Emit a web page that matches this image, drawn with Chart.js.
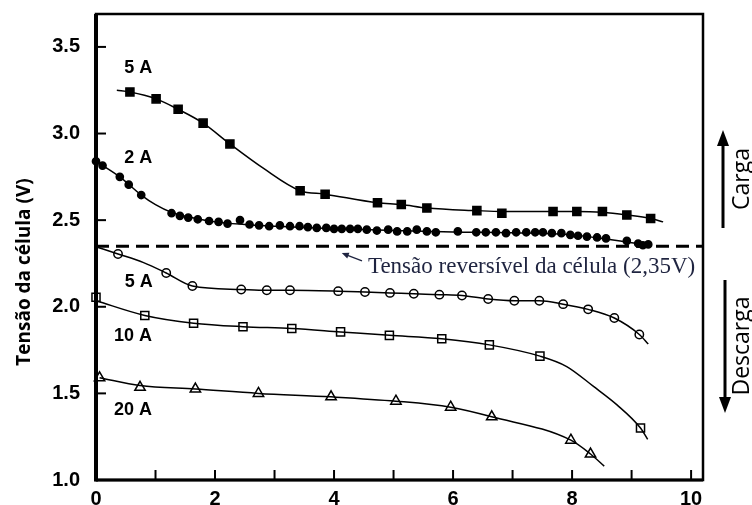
<!DOCTYPE html>
<html>
<head>
<meta charset="utf-8">
<script src="https://cdn.jsdelivr.net/npm/chart.js@4"></script>
<style>
  html, body { margin: 0; padding: 0; background: #fff; }
  #wrap { width: 752px; height: 505px; }
</style>
</head>
<body>
<div id="wrap"><canvas id="chart" width="752" height="505"></canvas></div>
<script>
// axis ranges and ticks
const xMin = 0, xMax = 10.2;
const yMin = 1.0, yMax = 3.69;
const xTickVals = [0, 1, 2, 3, 4, 5, 6, 7, 8, 9, 10];
const xLabels = [0, 2, 4, 6, 8, 10];
const yLabels = [1.0, 1.5, 2.0, 2.5, 3.0, 3.5];
const reversibleV = 2.35;

// charge 5 A (filled squares)
const c5X = [0.57, 1.01, 1.38, 1.80, 2.25, 3.43, 3.85, 4.73, 5.13, 5.56, 6.40, 6.82, 7.68, 8.08, 8.51, 8.92, 9.32];
const c5Y = [3.24, 3.20, 3.14, 3.06, 2.94, 2.67, 2.65, 2.60, 2.59, 2.57, 2.555, 2.54, 2.55, 2.55, 2.55, 2.53, 2.51];
const c5LineX = [0.35, 0.57, 1.01, 1.38, 1.80, 2.25, 2.81, 3.43, 3.85, 4.73, 5.13, 5.56, 6.40, 6.82, 7.68, 8.08, 8.51, 8.92, 9.32, 9.53];
const c5LineY = [3.25, 3.24, 3.20, 3.14, 3.06, 2.94, 2.80, 2.67, 2.65, 2.60, 2.59, 2.57, 2.555, 2.55, 2.55, 2.55, 2.545, 2.53, 2.51, 2.49];

// charge 2 A (filled circles)
const c2X = [0, 0.11, 0.40, 0.55, 0.76, 1.27, 1.41, 1.55, 1.71, 1.90, 2.06, 2.21, 2.42, 2.58, 2.74, 2.91, 3.09, 3.26, 3.42,
  3.56, 3.71, 3.87, 4.00, 4.13, 4.27, 4.40, 4.55, 4.72, 4.91, 5.06, 5.23, 5.39, 5.56, 5.71, 6.08, 6.39, 6.55, 6.72, 6.89,
  7.06, 7.23, 7.38, 7.51, 7.66, 7.82, 7.97, 8.10, 8.25, 8.42, 8.57, 8.92, 9.11, 9.19, 9.28];
const c2Y = [2.84, 2.815, 2.75, 2.705, 2.645, 2.54, 2.525, 2.515, 2.505, 2.495, 2.49, 2.48, 2.50, 2.475, 2.47, 2.465, 2.47, 2.465, 2.465,
  2.46, 2.455, 2.455, 2.45, 2.45, 2.45, 2.45, 2.445, 2.44, 2.445, 2.435, 2.435, 2.445, 2.435, 2.43, 2.435, 2.43, 2.43, 2.43, 2.425,
  2.43, 2.43, 2.43, 2.43, 2.425, 2.425, 2.415, 2.41, 2.405, 2.40, 2.395, 2.38, 2.365, 2.355, 2.36];
const c2LineX = [0, 0.40, 0.76, 1.00, 1.27, 1.60, 2.00, 2.50, 3.00, 4.00, 5.00, 6.00, 7.00, 8.00, 8.60, 9.00, 9.30];
const c2LineY = [2.84, 2.75, 2.645, 2.59, 2.545, 2.515, 2.49, 2.475, 2.465, 2.452, 2.44, 2.432, 2.427, 2.415, 2.39, 2.37, 2.352];

// discharge 5 A (open circles)
const d5X = [0.37, 1.18, 1.62, 2.44, 2.87, 3.26, 4.07, 4.52, 4.94, 5.34, 5.77, 6.15, 6.59, 7.03, 7.45, 7.85, 8.27, 8.71, 9.13];
const d5Y = [2.305, 2.195, 2.12, 2.10, 2.095, 2.095, 2.09, 2.085, 2.08, 2.075, 2.07, 2.065, 2.045, 2.035, 2.035, 2.015, 1.985, 1.935, 1.84];
const d5LineX = [0.01, 0.37, 0.80, 1.18, 1.62, 2.44, 2.87, 3.26, 4.07, 4.52, 4.94, 5.34, 5.77, 6.15, 6.59, 7.03, 7.45, 7.85, 8.27, 8.71, 9.13, 9.28];
const d5LineY = [2.345, 2.305, 2.255, 2.195, 2.12, 2.10, 2.095, 2.095, 2.09, 2.085, 2.08, 2.075, 2.07, 2.065, 2.045, 2.035, 2.035, 2.015, 1.985, 1.935, 1.84, 1.785];

// discharge 10 A (open squares)
const d10X = [0, 0.82, 1.64, 2.47, 3.29, 4.11, 4.93, 5.81, 6.61, 7.46, 9.15];
const d10Y = [2.055, 1.95, 1.905, 1.885, 1.875, 1.855, 1.835, 1.815, 1.78, 1.715, 1.30];
const d10LineX = [0, 0.82, 1.64, 2.47, 3.29, 4.11, 4.93, 5.81, 6.61, 7.46, 7.91, 8.36, 8.75, 9.15, 9.27];
const d10LineY = [2.035, 1.95, 1.905, 1.885, 1.875, 1.855, 1.835, 1.815, 1.78, 1.715, 1.655, 1.54, 1.435, 1.30, 1.235];

// discharge 20 A (open triangles)
const d20X = [0.06, 0.74, 1.67, 2.73, 3.95, 5.04, 5.96, 6.65, 7.98, 8.31];
const d20Y = [1.59, 1.535, 1.525, 1.50, 1.48, 1.455, 1.42, 1.365, 1.23, 1.15];
const d20LineX = [0.06, 0.74, 1.67, 2.73, 3.95, 5.04, 5.96, 6.65, 7.98, 8.31, 8.54];
const d20LineY = [1.59, 1.545, 1.525, 1.50, 1.48, 1.455, 1.42, 1.365, 1.23, 1.15, 1.08];

// curve labels [text, x, y]
const curveLabels = [
  ['5 A', 0.71, 3.38],
  ['2 A', 0.71, 2.86],
  ['5 A', 0.72, 2.145],
  ['10 A', 0.62, 1.83],
  ['20 A', 0.62, 1.405]
];

const pts = (xs, ys) => xs.map((x, i) => ({ x, y: ys[i] }));

function curve(xs, ys) {
  return {
    data: pts(xs, ys), showLine: true, pointRadius: 0, borderColor: '#000',
    borderWidth: 1.5, cubicInterpolationMode: 'monotone', clip: false
  };
}

function markers(xs, ys, style, radius, filled) {
  return {
    data: pts(xs, ys), showLine: false, pointStyle: style, pointRadius: radius,
    pointBorderWidth: 1.5, pointBorderColor: '#000',
    pointBackgroundColor: filled ? '#000' : '#fff', clip: false
  };
}

function arrow(ctx, x1, y1, x2, y2, head, width) {
  const ang = Math.atan2(y2 - y1, x2 - x1);
  ctx.beginPath();
  ctx.moveTo(x1, y1);
  ctx.lineTo(x2 - Math.cos(ang) * head * 0.8, y2 - Math.sin(ang) * head * 0.8);
  ctx.stroke();
  ctx.beginPath();
  ctx.moveTo(x2, y2);
  ctx.lineTo(x2 - head * Math.cos(ang) + width * Math.sin(ang), y2 - head * Math.sin(ang) - width * Math.cos(ang));
  ctx.lineTo(x2 - head * Math.cos(ang) - width * Math.sin(ang), y2 - head * Math.sin(ang) + width * Math.cos(ang));
  ctx.closePath();
  ctx.fill();
}

const framePlugin = {
  id: 'frame',
  afterDraw(chart) {
    const { ctx, chartArea: a, scales: { x, y } } = chart;
    ctx.save();
    ctx.strokeStyle = '#000';
    ctx.fillStyle = '#000';

    // inward ticks
    ctx.lineWidth = 2;
    x.ticks.forEach(t => {
      if (t.value <= xMin) return;
      const px = x.getPixelForValue(t.value);
      ctx.beginPath(); ctx.moveTo(px, a.bottom); ctx.lineTo(px, a.bottom - 10); ctx.stroke();
    });
    y.ticks.forEach(t => {
      if (t.value <= yMin) return;
      const py = y.getPixelForValue(t.value);
      ctx.beginPath(); ctx.moveTo(a.left, py); ctx.lineTo(a.left + 10, py); ctx.stroke();
    });

    // frame
    ctx.lineWidth = 2.5;
    ctx.strokeRect(a.left, a.top, a.width, a.height);
    ctx.lineWidth = 4;
    ctx.beginPath(); ctx.moveTo(a.left, a.top); ctx.lineTo(a.left, a.bottom + 1.5); ctx.stroke();
    ctx.lineWidth = 3;
    ctx.beginPath(); ctx.moveTo(a.left, a.bottom); ctx.lineTo(a.right, a.bottom); ctx.stroke();

    // curve labels
    ctx.font = 'bold 18px "Liberation Sans", Arial, sans-serif';
    ctx.textAlign = 'center';
    ctx.textBaseline = 'middle';
    curveLabels.forEach(([txt, vx, vy]) => {
      ctx.fillText(txt, x.getPixelForValue(vx), y.getPixelForValue(vy));
    });

    // reversible voltage note
    ctx.fillStyle = '#1f2440';
    ctx.font = '23px "Liberation Serif", "Times New Roman", serif';
    ctx.textAlign = 'left';
    ctx.fillText('Tensão reversível da célula (2,35V)', x.getPixelForValue(4.57), y.getPixelForValue(2.23));
    ctx.strokeStyle = '#1f2440';
    ctx.fillStyle = '#1f2440';
    ctx.lineWidth = 1.3;
    arrow(ctx, x.getPixelForValue(4.47), y.getPixelForValue(2.265), x.getPixelForValue(4.13), y.getPixelForValue(2.31), 7, 3);

    // y title
    ctx.fillStyle = '#000';
    ctx.save();
    ctx.translate(25, 272);
    ctx.rotate(-Math.PI / 2);
    ctx.font = 'bold 19px "Open Sans", sans-serif';
    ctx.textAlign = 'center';
    ctx.textBaseline = 'middle';
    ctx.fillText('Tensão da célula (V)', 0, 0);
    ctx.restore();

    // charge / discharge arrows
    const ax = a.right + 20;
    ctx.strokeStyle = '#000';
    ctx.fillStyle = '#000';
    ctx.lineWidth = 3;
    arrow(ctx, ax, 228, ax, 130, 16, 6);
    arrow(ctx, ax + 2, 280, ax + 2, 413, 16, 6);

    ctx.font = '23px "Open Sans", sans-serif';
    ctx.textAlign = 'center';
    ctx.textBaseline = 'middle';
    [['Carga', 179], ['Descarga', 346]].forEach(([txt, cy]) => {
      ctx.save();
      ctx.translate(a.right + 39, cy);
      ctx.rotate(-Math.PI / 2);
      ctx.fillText(txt, 0, 0);
      ctx.restore();
    });
    ctx.restore();
  }
};

const tickFont = { family: '"Liberation Sans", Arial, sans-serif', size: 20, weight: 'bold' };

new Chart(document.getElementById('chart'), {
  type: 'scatter',
  data: {
    datasets: [
      {
        data: [{ x: xMin, y: reversibleV }, { x: xMax, y: reversibleV }],
        showLine: true, pointRadius: 0, borderColor: '#000', borderWidth: 3, borderDash: [13, 7]
      },
      curve(c5LineX, c5LineY),
      curve(c2LineX, c2LineY),
      curve(d5LineX, d5LineY),
      curve(d10LineX, d10LineY),
      curve(d20LineX, d20LineY),
      markers(c5X, c5Y, 'rect', 5.7, true),
      markers(c2X, c2Y, 'circle', 3.6, true),
      markers(d5X, d5Y, 'circle', 4.2, false),
      markers(d10X, d10Y, 'rect', 5.7, false),
      markers(d20X, d20Y, 'triangle', 6, false)
    ]
  },
  options: {
    responsive: false,
    animation: false,
    devicePixelRatio: 1,
    layout: { padding: { top: 14, right: 49, left: 0, bottom: 0 } },
    plugins: { legend: { display: false }, tooltip: { enabled: false } },
    scales: {
      x: {
        type: 'linear', min: xMin, max: xMax, bounds: 'data',
        grid: { display: false, drawTicks: false, tickLength: 0 },
        border: { display: false },
        ticks: {
          autoSkip: false, maxRotation: 0, padding: 7,
          color: '#000', font: tickFont,
          callback: v => xLabels.includes(v) ? String(v) : ''
        },
        afterBuildTicks: s => {
          s.min = xMin; s.max = xMax;
          s.ticks = xTickVals.map(v => ({ value: v }));
        },
        afterFit: s => { s.height = 25; s.paddingLeft = 0; s.paddingRight = 0; }
      },
      y: {
        type: 'linear', min: yMin, max: yMax, bounds: 'data',
        grid: { display: false, drawTicks: false, tickLength: 0 },
        border: { display: false },
        ticks: {
          autoSkip: false, padding: 16,
          color: '#000', font: tickFont,
          callback: v => v.toFixed(1)
        },
        afterBuildTicks: s => {
          s.min = yMin; s.max = yMax;
          s.ticks = yLabels.map(v => ({ value: v }));
        },
        afterFit: s => { s.width = 96; s.paddingTop = 0; s.paddingBottom = 0; }
      }
    }
  },
  plugins: [framePlugin]
});
</script>
</body>
</html>
